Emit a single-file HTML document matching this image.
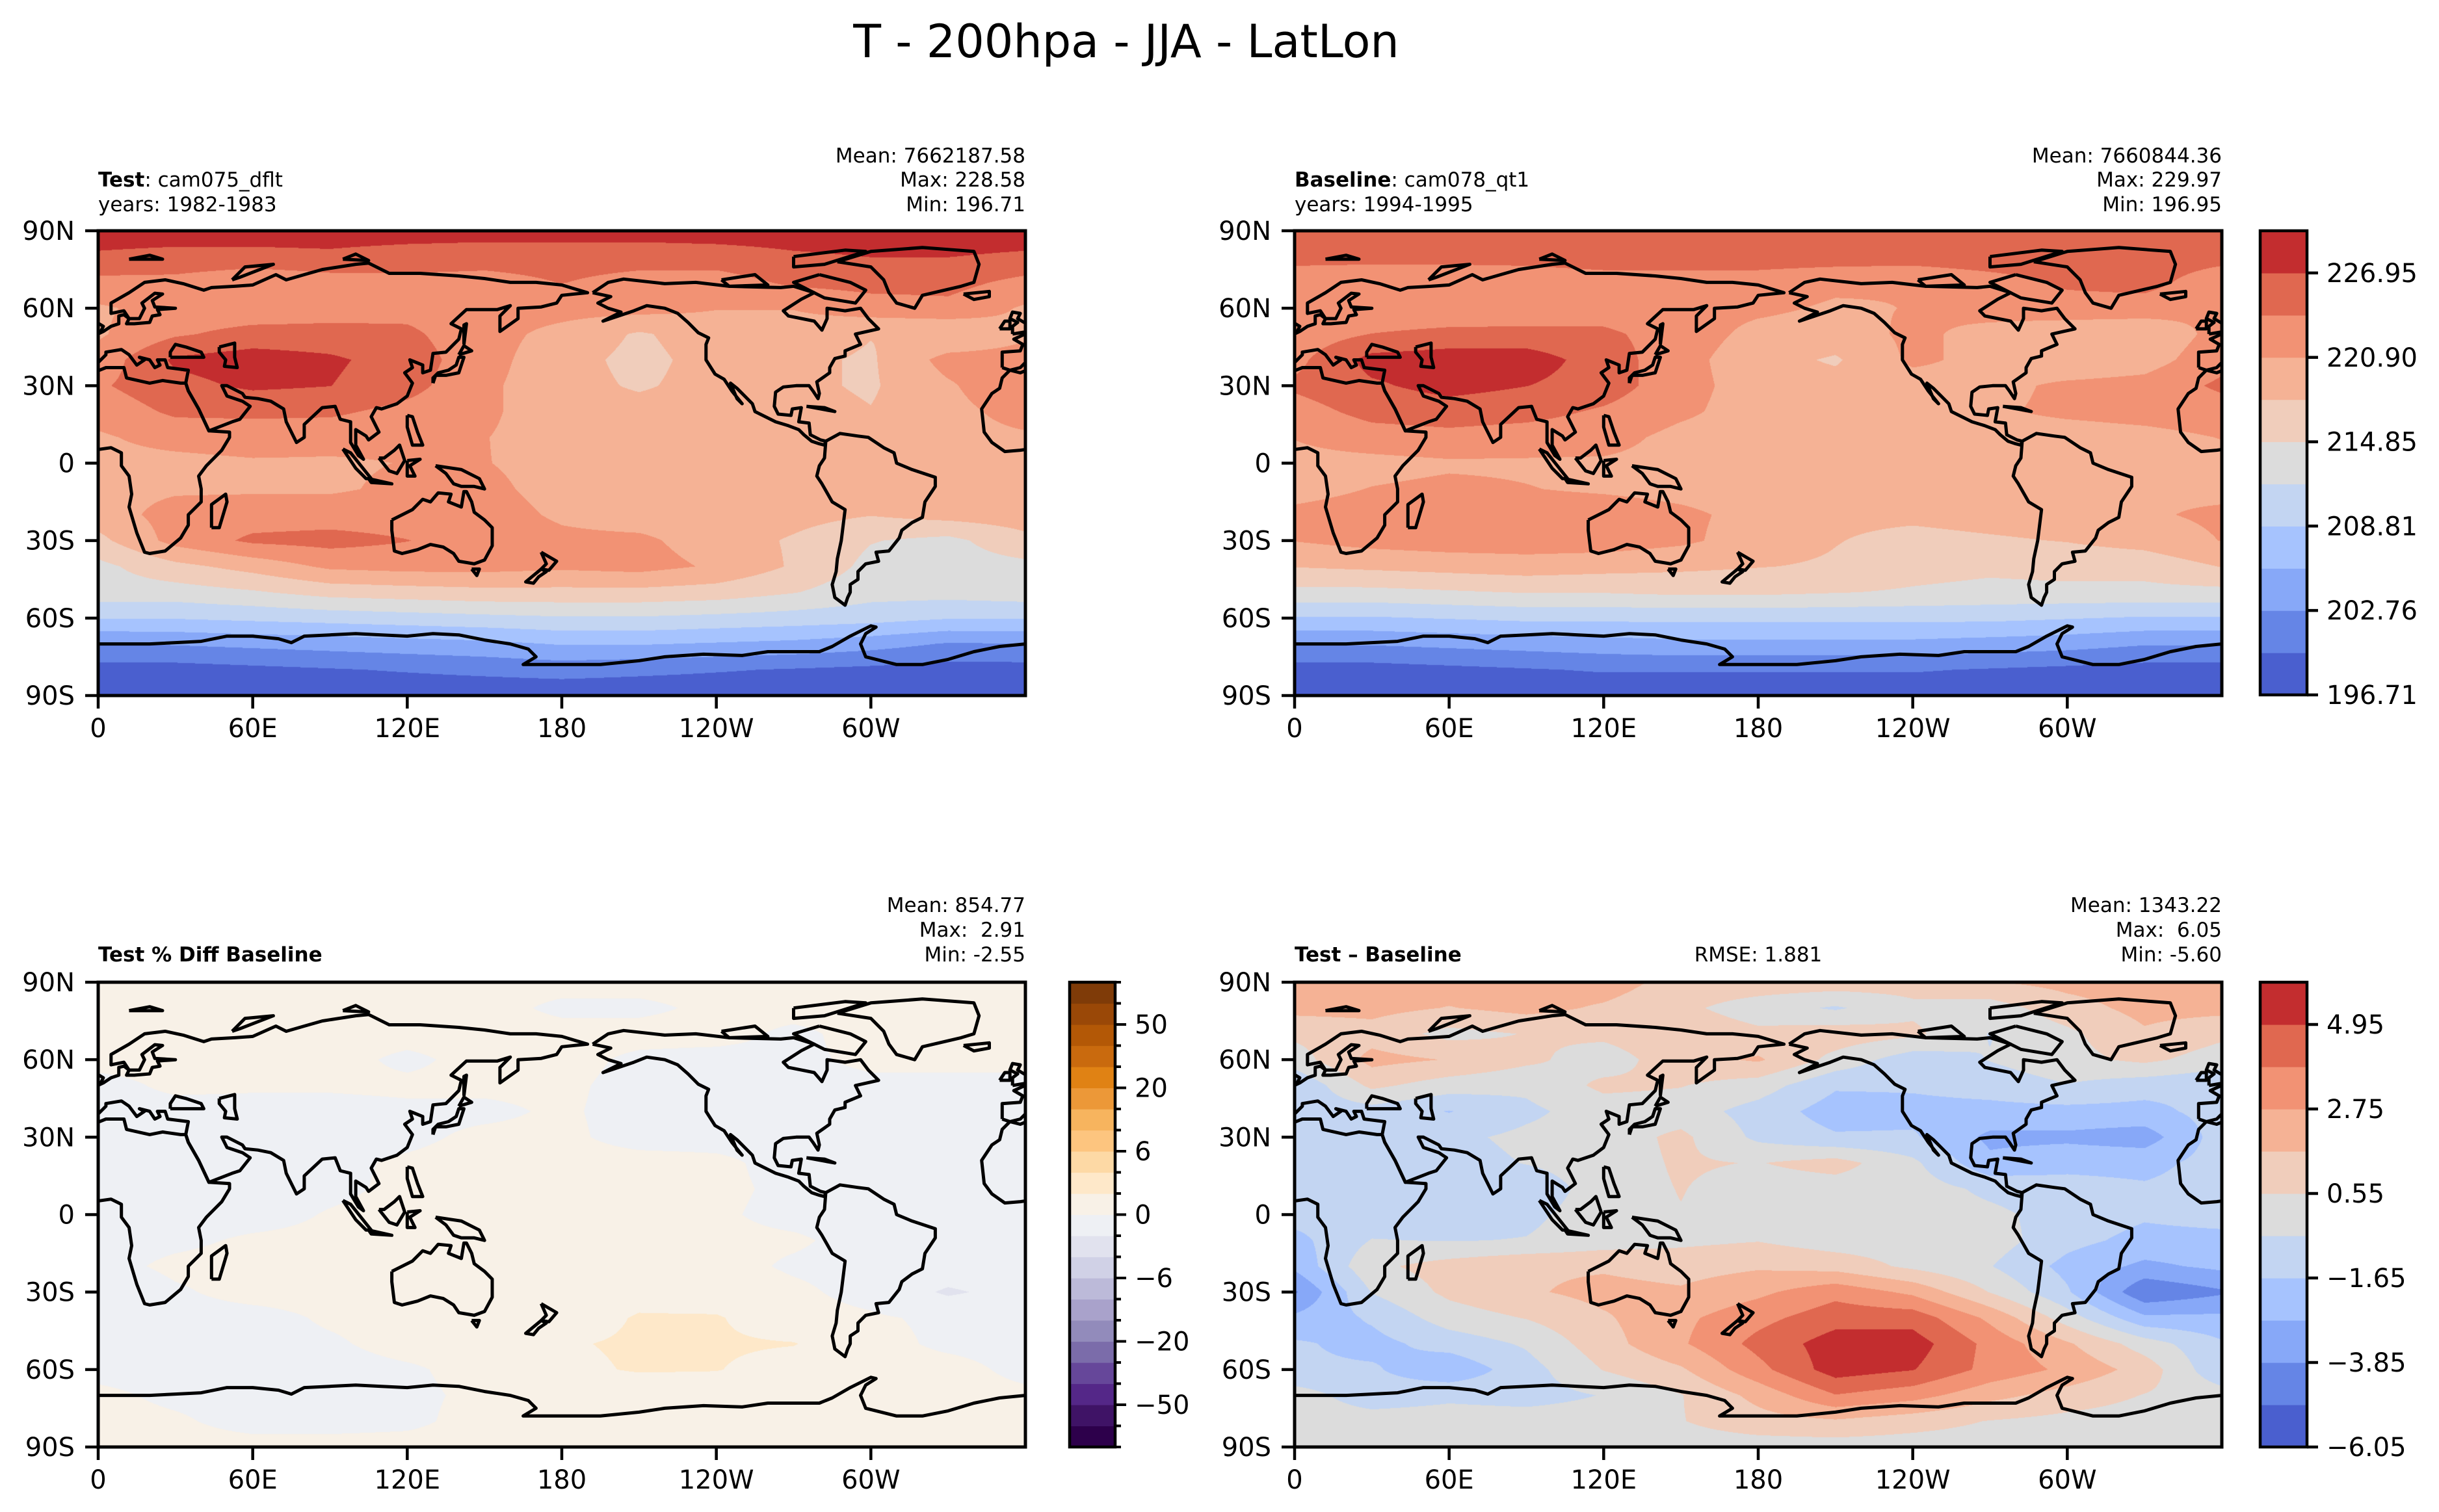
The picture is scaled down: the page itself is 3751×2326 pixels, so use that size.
<!DOCTYPE html>
<html><head><meta charset="utf-8"><title>T - 200hpa - JJA - LatLon</title>
<style>
html,body{margin:0;padding:0;background:#fff;}
#fig{position:relative;width:3751px;height:2326px;overflow:hidden;background:#fff;}
canvas{position:absolute;}
svg{position:absolute;left:0;top:0;}
text{font-family:"DejaVu Sans","Liberation Sans",sans-serif;fill:#000;}
</style></head>
<body>
<div id="fig">
<canvas id="c0" width="1426" height="715" style="left:151px;top:355px"></canvas>
<canvas id="c1" width="1426" height="715" style="left:1991px;top:355px"></canvas>
<canvas id="c2" width="1426" height="715" style="left:151px;top:1511px"></canvas>
<canvas id="c3" width="1426" height="715" style="left:1991px;top:1511px"></canvas>
<svg id="ov" width="3751" height="2326" xmlns="http://www.w3.org/2000/svg">
<text x="1732" y="88" font-size="70" text-anchor="middle">T - 200hpa - JJA - LatLon</text>
<text x="151" y="287" font-size="31"><tspan font-weight="bold">Test</tspan>: cam075_dflt</text>
<text x="151" y="325" font-size="31">years: 1982-1983</text>
<text x="1577" y="250" font-size="31" text-anchor="end">Mean: 7662187.58</text>
<text x="1577" y="287" font-size="31" text-anchor="end">Max: 228.58</text>
<text x="1577" y="325" font-size="31" text-anchor="end">Min: 196.71</text>
<text x="1991" y="287" font-size="31"><tspan font-weight="bold">Baseline</tspan>: cam078_qt1</text>
<text x="1991" y="325" font-size="31">years: 1994-1995</text>
<text x="3417" y="250" font-size="31" text-anchor="end">Mean: 7660844.36</text>
<text x="3417" y="287" font-size="31" text-anchor="end">Max: 229.97</text>
<text x="3417" y="325" font-size="31" text-anchor="end">Min: 196.95</text>
<text x="151" y="1479" font-size="31" font-weight="bold">Test % Diff Baseline</text>
<text x="1577" y="1403" font-size="31" text-anchor="end">Mean: 854.77</text>
<text x="1577" y="1441" font-size="31" text-anchor="end" xml:space="preserve">Max:  2.91</text>
<text x="1577" y="1479" font-size="31" text-anchor="end">Min: -2.55</text>
<text x="1991" y="1479" font-size="31" font-weight="bold">Test – Baseline</text>
<text x="2704" y="1479" font-size="31" text-anchor="middle">RMSE: 1.881</text>
<text x="3417" y="1403" font-size="31" text-anchor="end">Mean: 1343.22</text>
<text x="3417" y="1441" font-size="31" text-anchor="end" xml:space="preserve">Max:  6.05</text>
<text x="3417" y="1479" font-size="31" text-anchor="end">Min: -5.60</text>
</svg>
</div>
<script>
// ---------- data ----------
const latCategories = [90,80,70,60,50,40,30,20,10,0,-10,-20,-30,-40,-50,-60,-70,-80,-90];
const lonCategories = [0,30,60,90,120,150,180,210,240,270,300,330];
const testT = [
[228.5,228.5,228.5,228.5,228.5,228.5,228.5,228.5,228.5,228.5,228.5,228.5],
[226.5,226,226,226.3,225.5,225,225,225,225.5,226.5,227,227],
[223,223,221.5,222.5,223,223,224,223,222.5,224.5,225,225],
[220.5,222,222,222.5,223,222,222,222,221,221,222.5,223],
[220.5,223.5,225,225,224.5,222,220,217.5,219.5,219.5,218,218],
[222,227.5,228.5,227.5,225.5,222,219,217,219,218.5,217.5,222],
[223.5,226,227.5,227,225,221.5,219,217.5,219,218.5,217.5,220.5],
[222,224.5,224.5,224.5,223,221.5,219,219,219,219,218,220],
[220.5,222,222.5,222,221.5,221,219.5,219.5,219.5,219.5,219.5,220],
[220,220,220.5,220.5,221,221,220,220,220,220,220,220],
[220,220.5,220.5,220.5,221.5,221.5,220,219.5,219.5,219.5,219.5,220],
[219.5,222,222.5,222.5,222.5,222,220.5,219.5,219.5,219,218,219],
[217,222,224.5,225,224,222.5,221.5,221.5,219.5,217.5,215,214],
[214,217,219,221.5,222,222,221.5,222,220.5,217.5,214,213.5],
[213.5,213.5,214.5,216,216.5,217,217,217,216.5,215,213,213],
[209,209,209.5,210,210.5,211,211.5,211.5,211,210.5,210,209],
[202.7,203,203.5,204,204.5,205,206,206,205.5,205,204,202.5],
[198.5,198.5,199,199.5,200,200.5,201,200.5,200,199.5,199,198.5],
[197.5,197.5,197.5,197.5,197.5,197.5,197.5,197.5,197.5,197.5,197.5,197.5]];
const baseT = [
[226,226,226,226,226,226,226,226,226,226,226,226],
[225,225,225,225,225.5,225.5,225.5,225.5,225.5,226,226,225.5],
[222,221.5,221.5,222,222.5,222.5,222.5,221.5,221,222.5,224.5,225],
[221,221,221,221.5,222.5,222,221.5,220.5,221,222,222.5,222.5],
[222,224,225,225,224.5,222.5,220,219.5,221.5,220,219,218.5],
[223,228,228.5,228.5,225.5,222,219,217.5,221.5,220,218.5,219.5],
[224.5,226.5,228,227,225.5,222,219.5,219,219.5,220,221.5,222],
[222.5,225,225.5,225,223.5,221.5,219.5,219.5,219.5,220.5,221.5,222],
[221,222.5,223,222.5,222,220,219.5,219.5,219.5,219.5,219.5,220],
[220,220,220.5,220.5,220.5,220,219.5,219.5,219.5,219.5,219.5,220],
[220,221,221.5,221,220.5,220,219.5,219.5,219.5,219.5,219.5,220.5],
[221.5,222,222.5,222.5,222.5,221.5,220,218.5,218.5,219,219.5,220.5],
[221,222,222.5,222.5,222.5,221.5,219.5,218,217,217.5,218,219],
[218,218.5,219,219.5,219,218.5,218,217.5,216,215.5,216,216],
[214,214,214.5,215,215,215.5,215.5,215,214.5,214,214,214],
[208.5,208.5,209,209.5,209.5,209.5,209.5,209.5,209.5,209.5,209,208.5],
[203,203,203.5,204,204.5,205,205,205,205,204.5,204,203],
[198.5,198.5,199,199.5,200,200,200,200,200,199.5,199,198.5],
[197.5,197.5,197.5,197.5,197.5,197.5,197.5,197.5,197.5,197.5,197.5,197.5]];
const diffT = [
[2.2,2.2,2.2,2.2,2.2,1.2,1.2,1.2,1,1.6,2,2.2],
[2,2,1.6,2,1.5,0.8,0,-0.7,0.3,0,1.2,2],
[0.8,1.2,0.2,0.6,0.8,1.3,0.8,1.2,0.8,-0.6,0.3,1.5],
[0,2,1.6,0.8,0,1.2,1.8,0.2,-1.2,-0.5,0.2,0.8],
[-1.5,0.8,0,-0.3,0.8,0.6,0,-1.5,-1.5,-1.2,-0.6,-1.2],
[-1.2,-1,-1.7,-0.8,0,0,-1,-2.2,-2,-2,-2,-2],
[-1.1,-1,-0.8,-0.3,0,0.8,-0.8,-1.5,-1.5,-3,-3,-3.3],
[-1.2,-1.2,-1,-0.5,0,0.7,0.5,1,-0.3,-2.5,-2,-2],
[-1.2,-1.2,-1,-1.3,0,0.6,0,0,0,-0.8,-1.2,-1.5],
[-1.2,-1.2,-1.2,-0.8,0,0.5,0,0,0,-0.3,-1,-1.5],
[-2,-0.5,-0.6,-0.5,0,0.3,0.5,0,0,0,-1.3,-2],
[-2.5,0.3,1,1.5,1.5,1.2,1.5,1.2,0.3,-0.5,-2,-3],
[-4,-0.5,0.8,1.5,2,1.8,2.5,3.5,2.5,0.5,-1.5,-4.8],
[-2.5,-1.5,0,0.6,1.5,2.5,3.5,4.5,4.5,2.5,0,-2.5],
[-1.5,-2,-1.2,-0.4,1.2,2.6,4.2,5.5,5.5,3.5,1.8,0],
[-1.5,-1.5,-2.5,-1,0.6,1.5,3.5,5.5,5,3.5,2.5,1.2],
[0,-1.2,-0.8,-1,-0.5,0.5,2,3.8,3.2,2,1.2,0.5],
[0,0,0,0,0,0.5,1.2,1.5,1,0.5,0.2,0],
[0,0,0,0,0,0,0,0,0,0,0,0]];
const pctDiff = [
[0.5,0.5,0.5,0.5,0.5,0.5,0.5,0.5,0.5,0.5,0.5,0.5],
[0.5,0.5,0.5,0.5,0.5,0.5,-0.3,-0.3,0.3,0.5,0.5,0.5],
[0.5,0.5,0.5,0.5,0.5,0.5,0.5,0.5,0.5,-0.3,0.5,0.5],
[0.5,0.5,0.5,0.5,-0.3,0.5,0.5,-0.3,-0.5,-0.3,0.3,0.5],
[-0.5,0.3,0.2,0.2,0.3,0.3,0.3,-0.5,-0.5,-0.5,-0.3,-0.5],
[-0.5,-0.5,-0.5,-0.5,-0.3,-0.3,0.2,-0.5,-0.5,-0.5,-0.5,-0.5],
[-0.5,-0.5,-0.5,-0.5,-0.3,0.3,0.3,-0.5,-0.5,-0.5,-0.5,-0.5],
[-0.5,-0.5,-0.5,-0.3,0.2,0.5,0.5,0.5,0.3,-0.5,-0.5,-0.5],
[-0.5,-0.5,-0.5,-0.3,0.3,0.5,0.5,0.5,0.3,-0.3,-0.5,-0.5],
[-0.5,-0.5,-0.5,0.1,0.5,0.5,0.5,0.5,0.2,-0.4,-0.5,-0.5],
[-0.5,-0.3,0.2,0.3,0.5,0.5,0.5,0.5,0.3,0.2,-0.5,-0.5],
[-0.5,0.3,0.5,0.5,0.5,0.5,0.5,0.5,0.5,-0.2,-0.5,-0.7],
[-1.2,-0.2,0.5,0.5,0.5,0.5,0.5,1.2,0.8,0.3,-0.5,-2.3],
[-0.5,-0.5,-0.5,0.2,0.5,0.5,0.8,2.2,2.2,0.5,0.2,-0.3],
[-0.5,-0.5,-0.5,-0.2,0.5,0.5,1.8,2.3,2.3,2.1,0.5,-0.3],
[-0.4,-0.5,-0.5,-0.5,-0.2,0.5,1.5,2.2,2.1,1,0.5,0.5],
[0.3,-0.3,-0.5,-0.5,-0.3,0.3,0.5,0.5,0.5,0.5,0.5,0.5],
[0.5,0.2,-0.5,-0.5,-0.3,0.5,0.5,0.5,0.5,0.5,0.5,0.5],
[0.5,0.5,0.5,0.5,0.5,0.5,0.5,0.5,0.5,0.5,0.5,0.5]];
const tempLevels = [196.71,199.735,202.76,205.785,208.81,211.835,214.85,217.875,220.90,223.925,226.95,229.975];
const tempTickLabels = ["196.71","202.76","208.81","214.85","220.90","226.95"];
const diffLevels = [-6.05,-4.95,-3.85,-2.75,-1.65,-0.55,0.55,1.65,2.75,3.85,4.95,6.05];
const diffTickLabels = ["\u22126.05","\u22123.85","\u22121.65","0.55","2.75","4.95"];
const pctLevels = [-70,-60,-50,-40,-30,-20,-15,-10,-6,-4,-2,0,2,4,6,10,15,20,30,40,50,60,70];
const pctTickValues = [-50,-20,-6,0,6,20,50];
const pctTickLabels = ["\u221250","\u221220","\u22126","0","6","20","50"];
const latTickValues = [90,60,30,0,-30,-60,-90];
const latTickLabels = ["90N","60N","30N","0","30S","60S","90S"];
const lonTickValues = [0,60,120,180,240,300];
const lonTickLabels = ["0","60E","120E","180","120W","60W"];

const coolwarm = ["#4a5fcf","#6585e6","#87a8f8","#a6c3fe","#c3d5f2","#dcdcdc","#f0cdbb","#f5b295","#f29274","#e06850","#c32d2f"];
const puor = ["#2d004b","#3f1366","#542788","#66479a","#7b6caa","#928bbb","#a9a2cb","#bcbad9","#d0d1e6","#e1e2ee","#eef0f4","#f8f1e7","#fee8c9","#fdd9a5","#fdc57f","#f7b45e","#ec9838","#e08214","#c96a0e","#b35806","#9a4807","#7f3b08"];

// ---------- geometry ----------
const PW = 1426, PH = 715;
const BOT = 1511;
const panels = [
 {id:"c0", x:151, y:355, grid:testT, levels:tempLevels, colors:coolwarm, name:"test"},
 {id:"c1", x:1991, y:355, grid:baseT, levels:tempLevels, colors:coolwarm, name:"baseline"},
 {id:"c2", x:151, y:BOT, grid:pctDiff, levels:pctLevels, colors:puor, name:"pct-diff"},
 {id:"c3", x:1991, y:BOT, grid:diffT, levels:diffLevels, colors:coolwarm, name:"diff"}
];
function xScale(p, lon){ return p.x + lon/360*PW; }
function yScale(p, lat){ return p.y + (90-lat)/180*PH; }

function hexToRgb(h){ return [parseInt(h.substr(1,2),16),parseInt(h.substr(3,2),16),parseInt(h.substr(5,2),16)]; }
function sample(grid, lat, lon){
  const r = (latCategories[0]-lat)/10;
  const c = lon/30;
  const r0 = Math.max(0,Math.min(latCategories.length-2,Math.floor(r)));
  const fr = Math.max(0,Math.min(1,r-r0));
  const n = lonCategories.length;
  let c0 = Math.floor(c); const fc = c-c0; c0 = ((c0%n)+n)%n; const c1 = (c0+1)%n;
  const a = grid[r0][c0]*(1-fc)+grid[r0][c1]*fc;
  const b = grid[r0+1][c0]*(1-fc)+grid[r0+1][c1]*fc;
  return a*(1-fr)+b*fr;
}
function band(levels, v){
  for(let i=0;i<levels.length-1;i++){ if(v<levels[i+1]) return i; }
  return levels.length-2;
}
panels.forEach(p=>{
  const cv = document.getElementById(p.id);
  const ctx = cv.getContext("2d");
  const img = ctx.createImageData(PW,PH);
  const rgb = p.colors.map(hexToRgb);
  for(let j=0;j<PH;j++){
    const lat = 90 - (j+0.5)/PH*180;
    for(let i=0;i<PW;i++){
      const lon = (i+0.5)/PW*360;
      const v = sample(p.grid, lat, lon);
      const col = rgb[Math.max(0,Math.min(rgb.length-1,band(p.levels,v)))];
      const k=(j*PW+i)*4; img.data[k]=col[0]; img.data[k+1]=col[1]; img.data[k+2]=col[2]; img.data[k+3]=255;
    }
  }
  ctx.putImageData(img,0,0);
});

// ---------- coastlines (lon,lat; west negative) ----------
const coasts = [
[[-9,37],[-9,43],[-2,43.5],[-1,46],[-4.5,48],[2,51],[5,53],[8,54],[8,57],[10,57.5],[12,56],[11,54],[14,54],[20,54.5],[21,57],[24,57.5],[23,59.5],[30,60],[22,60.5],[21,63],[25,65.5],[22,65.8],[17,62],[18,60],[16,56],[12,56],[10,59],[5,58],[5,62],[12,66],[18,70],[26,71],[33,69.5],[41,67],[44,68],[53,68.5],[60,69],[69,73],[73,71],[80,73],[87,75],[100,77],[105,77.5],[113,73.5],[125,73.5],[140,72.5],[150,71.5],[160,70],[170,70],[180,69],[190,66],[180,65],[178,62],[172,60.5],[163,60],[163,56],[156,51],[156,57],[160,61],[155,59.5],[143,59.5],[137,54],[141,52],[140,48],[135,43],[130,42.5],[129,36],[126,35],[126,38],[121,40],[122,37],[119,35],[122,31],[120,26],[116,23],[110,21],[108,21.5],[106,18],[109,12],[105,9],[104,10.5],[100,13],[100,7],[103,1.5],[101,3],[98,8],[98,16],[94,17],[92,22],[87,21.5],[80,15],[80,10],[77,8],[73,16],[72,21],[67,24],[62,25],[57,25.5],[56,27],[50,30],[48,30],[50,26],[56,24],[59,22],[55,17],[52,16],[43,12.5],[39,21],[35,28],[34,31],[35,36],[27,37],[26,40],[23,40],[24,38],[22,37],[20,40],[16,41],[18,40],[15,38],[12,42],[9,44],[3,43],[3,42],[0,39],[-2,37],[-6,36],[-9,37]],
[[-6,36],[-2,35],[3,37],[10,37],[11,33],[20,31],[25,32],[32,31],[34,31],[35,28],[39,21],[43,12.5],[51,12],[51,10],[48,5],[42,-1],[39,-5],[40,-10],[40,-15],[35,-20],[35,-24],[32,-29],[26,-34],[20,-35],[18,-34.5],[15,-27],[12,-17],[13,-12],[12,-5],[9,-1],[9,4],[5,6],[-2,5],[-8,4.5],[-13,8],[-16,12],[-17,21],[-13,27],[-10,29],[-9,33],[-6,36]],
[[-168,66],[-162,70],[-156,71.3],[-140,69.5],[-128,70],[-115,68.5],[-95,68],[-90,68.5],[-82,66],[-87,63.5],[-94,59],[-92,57],[-82,55],[-79,51.5],[-77,56],[-77,60],[-70,59],[-64,60],[-61,56],[-57,52],[-66,50],[-64,46],[-70,43.5],[-70,41.5],[-74,40.5],[-76,37],[-76,35],[-81,31.5],[-80,27],[-80.5,25],[-82.5,28],[-84,30],[-89,30],[-94,29.5],[-97,27.5],[-97.5,22],[-96,19],[-91,18.5],[-90.5,21],[-87,21.5],[-88,16],[-84,15.5],[-83.5,11],[-79.5,9],[-77.5,8.5],[-78,7],[-80,7.5],[-83,8.5],[-86,11],[-88,13],[-92,14.5],[-97,16],[-105,20],[-106,23],[-112,29],[-114.5,31],[-112,25],[-110,23],[-112,25.5],[-114,28],[-117,32.5],[-120.5,34.5],[-124,40],[-124,46],[-123,48.5],[-127,50.5],[-131,54.5],[-135,58],[-140,60],[-147,61],[-152,59],[-158,57],[-164,55],[-157,58.5],[-162,60],[-166,62],[-161,64.5],[-168,66]],
[[-77.5,8.5],[-72,11.5],[-65,10.5],[-61,10],[-55,6],[-51,4],[-50,0],[-44,-2.5],[-35,-5.5],[-35,-9],[-39,-15],[-40,-21],[-44,-23],[-48,-26],[-49,-29],[-53,-34],[-58,-34.5],[-57,-38],[-62,-39],[-65,-42],[-65,-45],[-68,-47],[-68,-50],[-69,-52],[-70,-55],[-74,-52],[-75,-47],[-73.5,-42],[-73,-37],[-71.5,-30],[-70,-18],[-75,-15],[-79,-8],[-81,-5],[-80,-1],[-78,2],[-77.5,8.5]],
[[114,-22],[114,-26],[115,-34],[118,-35],[124,-33.5],[129,-31.5],[134,-32.5],[138,-35],[140,-38],[146,-39],[150,-37.5],[153,-32],[153,-25],[150,-22],[146,-19],[145,-15],[143,-11],[142,-11],[141,-17],[136,-15],[137,-12],[132,-11.5],[129,-15],[126,-14],[122,-18],[114,-22]],
[[145,-41],[148,-41],[147,-43.5],[145,-41]],
[[-73,78],[-60,82],[-40,83.5],[-20,82],[-18,77],[-20,70],[-25,68.5],[-40,65],[-43,60],[-50,62],[-53,66],[-55,71],[-60,76],[-73,78]],
[[-180,-78],[-165,-78],[-150,-76.5],[-140,-75],[-125,-74],[-110,-74.5],[-100,-73],[-90,-73],[-80,-73],[-75,-71],[-68,-67],[-60,-63],[-58,-63.5],[-62,-66],[-64,-70],[-62,-75],[-50,-78],[-40,-78],[-30,-76],[-20,-73],[-10,-71],[0,-70],[10,-70],[20,-70],[30,-69.5],[40,-69],[50,-67],[60,-67],[70,-68],[75,-69.5],[80,-67],[90,-66.5],[100,-66],[110,-66.5],[120,-67],[130,-66],[140,-66.5],[150,-68.5],[160,-70],[167,-72],[170,-75],[165,-78],[180,-78]],
[[44,-25],[47,-25],[50,-15],[49.5,-12],[44,-16],[44,-25]],
[[130,31],[131,34],[135,34],[140,35],[141,38],[142,41],[140,41],[139,38],[136,36],[132,35],[130,33],[130,31]],
[[140,42],[145,43.5],[142,45.5],[140,42]],
[[-5,50],[1,51],[2,53],[-3,56],[-2,58],[-5,58.5],[-6,56],[-3,54.5],[-5,53],[-5,50]],
[[-10,52],[-6,52],[-6,55],[-8,55],[-10,52]],
[[172,-34.5],[178,-38],[175,-41.5],[172,-41],[174,-39],[172,-34.5]],
[[172,-41],[174,-42],[171,-44],[169,-46.5],[166,-46],[172,-41]],
[[109,2],[113,-3],[116,-4],[119,1],[117,7],[115,5],[111,2],[109,2]],
[[95,5.5],[98,4],[106,-6],[104,-6],[100,-2],[95,5.5]],
[[105,-6],[114,-8],[106,-7.5],[105,-6]],
[[131,-1],[141,-2.5],[148,-6],[150,-10],[146,-9],[141,-9],[138,-8],[135,-4],[131,-1]],
[[120,1],[125,1.5],[121,-1],[123,-5],[120,-5],[120,1]],
[[120,18.5],[122,18],[124,12],[126,7],[122,7],[120,14],[120,18.5]],
[[-85,22],[-74,20],[-78,21.5],[-85,22]],
[[52,71],[57,76],[68,77],[55,72],[52,71]],
[[12,79],[20,80.5],[25,79],[12,79]],
[[-24,65.5],[-14,66.5],[-14,64.5],[-20,63.4],[-24,65.5]],
[[-80,73],[-68,70],[-62,67],[-66,62],[-78,64],[-90,70],[-80,73]],
[[-90,80],[-70,82.5],[-62,82],[-78,77],[-90,76],[-90,80]],
[[-118,71],[-105,73],[-100,69],[-115,68.5],[-118,71]],
[[142,46],[143,54],[142,53.5],[142,46]],
[[95,79],[105,78.5],[100,81],[95,79]],
[[28,41],[41,41],[40,43],[34,45],[30,46],[28,43],[28,41]],
[[47,45],[53,46.5],[53,41],[54,37],[49,37.5],[49.5,40],[47,43],[47,45]]
];

// ---------- overlay ----------
const NS = "http://www.w3.org/2000/svg";
const ov = document.getElementById("ov");
function mk(tag, attrs, parent){ const e=document.createElementNS(NS,tag); for(const k in attrs) e.setAttribute(k,attrs[k]); (parent||ov).appendChild(e); return e; }
const defs = mk("defs",{});
panels.forEach((p,pi)=>{
  const cp = mk("clipPath",{id:"clip"+pi},defs);
  mk("rect",{x:p.x,y:p.y,width:PW,height:PH},cp);
  const g = mk("g",{"clip-path":"url(#clip"+pi+")"});
  
  
  coasts.forEach(poly=>{
    [0,360].forEach(off=>{
      const pts = poly.map(q=>xScale(p,q[0]+off).toFixed(1)+","+yScale(p,q[1]).toFixed(1)).join(" ");
      const pl = mk("polyline",{points:pts,fill:"none",stroke:"#000","stroke-width":"5","stroke-linejoin":"round"},g);
      
      
    });
  });
  const fr = mk("rect",{x:p.x,y:p.y,width:PW,height:PH,fill:"none",stroke:"#000","stroke-width":"5"});
  
  
  latTickValues.forEach((lat,i)=>{
    const y = yScale(p,lat);
    const t = mk("line",{x1:p.x-20,x2:p.x,y1:y,y2:y,stroke:"#000","stroke-width":"4.5"});
    
    
    const tx = mk("text",{x:p.x-36,y:y+14,"font-size":"40","text-anchor":"end"});
    tx.textContent = latTickLabels[i];
    
    
  });
  lonTickValues.forEach((lon,i)=>{
    const x = xScale(p,lon);
    const t = mk("line",{x1:x,x2:x,y1:p.y+PH,y2:p.y+PH+20,stroke:"#000","stroke-width":"4.5"});
    
    
    const tx = mk("text",{x:x,y:p.y+PH+64,"font-size":"40","text-anchor":"middle"});
    tx.textContent = lonTickLabels[i];
    
    
  });
});

// ---------- colorbars ----------
function colorbar(cx, cy, w, h, colors, name){
  const g = mk("g",{});
  
  
  const n = colors.length, bh = h/n;
  colors.forEach((c,i)=>{
    const r = mk("rect",{x:cx,y:cy+h-(i+1)*bh,width:w,height:bh+0.6,fill:c},g);
    
    
  });
  const fr = mk("rect",{x:cx,y:cy,width:w,height:h,fill:"none",stroke:"#000","stroke-width":"4.5"},g);
  
  
  return g;
}
function cbTicks(g, cx, cy, w, h, lo, hi, values, labels){
  values.forEach((v,i)=>{
    const y = cy + h - (v-lo)/(hi-lo)*h;
    const t = mk("line",{x1:cx+w,x2:cx+w+17,y1:y,y2:y,stroke:"#000","stroke-width":"4.5"},g);
    
    
    const tx = mk("text",{x:cx+w+30,y:y+14,"font-size":"40"},g);
    tx.textContent = labels[i];
    
    
  });
}
const cbT = colorbar(3476,355,72,714,coolwarm,"temperature-colorbar");
cbTicks(cbT,3476,355,72,714,tempLevels[0],tempLevels[tempLevels.length-1],[0,2,4,6,8,10].map(i=>tempLevels[i]),tempTickLabels);
const cbD = colorbar(3476,BOT,72,715,coolwarm,"diff-colorbar");
cbTicks(cbD,3476,BOT,72,715,diffLevels[0],diffLevels[diffLevels.length-1],[0,2,4,6,8,10].map(i=>diffLevels[i]),diffTickLabels);
const cbP = colorbar(1645,BOT,70,715,puor,"pct-diff-colorbar");
(function(){
  const n = pctLevels.length-1, h=715, cy=BOT, cx=1645, w=70;
  pctLevels.forEach((lv,i)=>{
    const y = cy + h - i/n*h;
    const major = pctTickValues.indexOf(lv);
    const t = mk("line",{x1:cx+w,x2:cx+w+(major>=0?17:9),y1:y,y2:y,stroke:"#000","stroke-width":"4"},cbP);
    
    
    if(major>=0){
      const tx = mk("text",{x:cx+w+30,y:y+14,"font-size":"40"},cbP);
      tx.textContent = pctTickLabels[major];
      
      
    }
  });
})();
</script>
</body></html>
